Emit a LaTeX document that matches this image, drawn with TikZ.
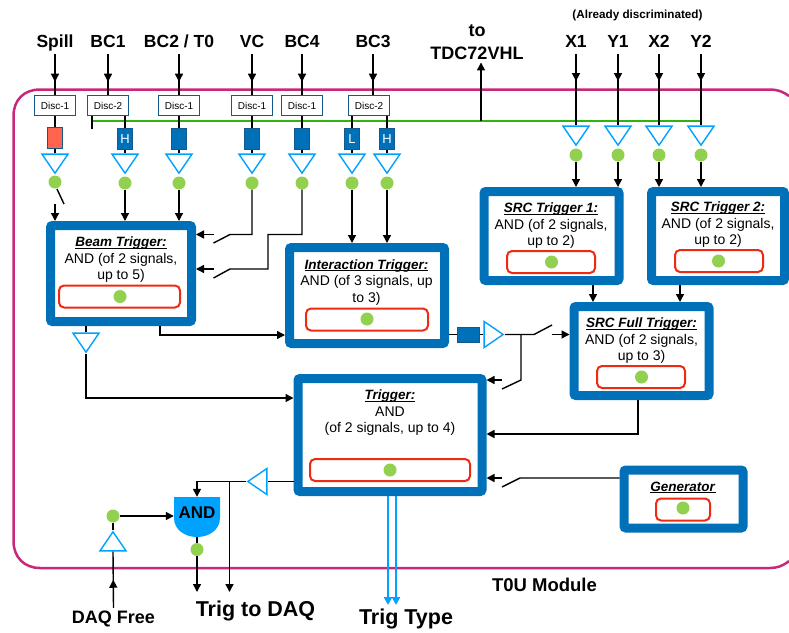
\documentclass[tikz,border=0pt]{standalone}
\usepackage{fontspec}
\usepackage{xcolor}
\usetikzlibrary{arrows.meta,shapes.geometric,decorations.markings}
\setmainfont{Liberation Sans}
\definecolor{modpink}{HTML}{C9287A}
\definecolor{frameblue}{HTML}{0071B9}
\definecolor{darkblue}{HTML}{14598C}
\definecolor{cyanline}{HTML}{00A2FF}
\definecolor{busgreen}{HTML}{2DB40F}
\definecolor{dotgreen}{HTML}{92D050}
\definecolor{redbox}{HTML}{EE2A12}
\definecolor{salmon}{HTML}{FF644E}
\newcommand{\trigtitle}[1]{\fontsize{13.5}{16.7}\selectfont\vphantom{A}\underline{\smash{\textbf{\textit{#1}}}}}

\begin{document}
\begin{tikzpicture}[x=1pt,y=-1pt,>={Triangle[length=8pt,width=8pt]},
  wire/.style={draw=black,line width=1.4pt},
  sig/.style={wire,->},
  midtip/.style={wire,postaction={decorate},decoration={markings,
    mark=at position #1 with {\arrow{Triangle[length=8pt,width=8pt]}}}},
  inlbl/.style={font=\fontsize{17.5}{20}\selectfont\bfseries,inner sep=0pt,
    text height=12.6pt,text depth=0pt,minimum height=26pt},
  biglbl/.style={font=\fontsize{21.5}{24}\selectfont\bfseries,inner sep=0pt},
  disc/.style={draw=darkblue,fill=white,line width=1.4pt,inner sep=0pt,minimum width=41pt,
    minimum height=20pt,font=\fontsize{10}{12}\selectfont},
  filt/.style={draw=darkblue,fill=frameblue,line width=1pt,inner sep=0pt,minimum width=15.5pt,
    minimum height=21pt,text=white,font=\fontsize{13}{14}\selectfont},
  tri/.style={isosceles triangle,isosceles triangle stretches,draw=cyanline,fill=white,
    line width=1.4pt,inner sep=0pt,minimum width=26pt,minimum height=19pt},
  tridown/.style={tri,shape border rotate=270,anchor=apex},
  gdot/.style={circle,fill=dotgreen,inner sep=0pt,minimum size=13pt},
  trig/.style={draw=frameblue,fill=white,line width=9pt,rounded corners=2pt,inner sep=0pt},
  redb/.style={draw=redbox,line width=2pt,rounded corners=5pt,inner sep=0pt,minimum height=22pt},
  txt/.style={align=center,inner sep=0pt,font=\fontsize{14}{16.7}\selectfont}]
  \useasboundingbox (0,0) rectangle (789,632);

  \draw[modpink,line width=2.5pt] (789,96) .. controls (783,91.5) and (777,89.5) .. (770,89.5)
    -- (40,89.5) .. controls (24,89.5) and (13.5,100) .. (13.5,116) -- (13.5,541)
    .. controls (13.5,557) and (24,568) .. (40,568) -- (770,568)
    .. controls (777,568) and (783,566) .. (789,561);

  \coordinate (busl) at (92,121);
  \coordinate (busr) at (701,121);
  \coordinate (stub) at (92,129);
  \coordinate (tdc) at (481,121);
  \draw[busgreen,line width=2.2pt] (busl) -- (busr);

  \foreach \nm/\xx/\dx/\lbl/\dlbl in {sp/55/55/Spill/Disc-1, bca/108/108/BC1/Disc-2,
      bcb/179/179/{BC2 / T0}/Disc-1, vc/252/252/VC/Disc-1, bcd/302/302/BC4/Disc-1, bcc/373/369/BC3/Disc-2} {
    \node[inlbl] (l\nm) at (\xx,40.7) {\lbl};
    \node[disc] (d\nm) at (\dx,105.5) {\dlbl};
    \draw[midtip=0.68] (l\nm.south) -- (l\nm.south |- d\nm.north);
  }

  \node[filt,fill=salmon] (fsp) at (55,138) {};
  \node[tridown] (tsp) at (55,175) {};
  \node[gdot] (gsp) at (55,182) {};
  \draw[wire] (dsp) -- (fsp);
  \draw[wire] (fsp) -- (tsp.lower side);
  \foreach \nm/\xx/\ltr/\src in {ha/125/H/bca, ab/179/{}/bcb, ac/252/{}/vc, ad/302/{}/bcd, la/352/L/bcc, hb/387/H/bcc} {
    \node[filt] (f\nm) at (\xx,139) {\ltr};
    \node[tridown] (t\nm) at (\xx,175) {};
    \node[gdot] (g\nm) at (\xx,183) {};
    \draw[wire] (f\nm |- d\src.south) -- (f\nm);
    \draw[wire] (f\nm) -- (t\nm.lower side);
  }
  \draw[wire] (stub |- dbca.south) -- (stub);

  \node[font=\fontsize{18}{23}\selectfont\bfseries,align=center,inner sep=0pt,outer sep=3pt] (ltdc) at (477,42) {to\\TDC72VHL};
  \draw[sig] (tdc) -- (tdc |- ltdc.south);

  \node[font=\fontsize{11.7}{14}\selectfont\bfseries,inner sep=0pt] (ldisc) at (637.5,15) {(Already discriminated)};
  \foreach \nm/\xx/\lbl in {xa/576/X1, ya/618/Y1, xb/659/X2, yb/701/Y2} {
    \node[inlbl] (l\nm) at (\xx,40.7) {\lbl};
    \node[tridown] (t\nm) at (\xx,147) {};
    \node[gdot] (g\nm) at (\xx,155) {};
    \draw[midtip=0.38] (l\nm.south) -- (t\nm.lower side);
  }

  \node[trig,minimum width=141pt,minimum height=96pt] (beam) at (121,273.5) {};
  \node[txt] (beamtxt) at (121,260) {\trigtitle{Beam Trigger:}\\AND (of 2 signals,\\up to 5)};
  \node[redb,minimum width=121pt] (beamred) at (119.5,296.5) {};
  \node[gdot] (beamdot) at (120,296.5) {};

  \node[trig,minimum width=155pt,minimum height=96pt] (inter) at (367,295.5) {};
  \node[txt] (intertxt) at (366.5,282.5) {\trigtitle{Interaction Trigger:}\\AND (of 3 signals, up\\to 3)};
  \node[redb,minimum width=122pt] (interred) at (367,319.5) {};
  \node[gdot] (interdot) at (367,319) {};

  \node[trig,minimum width=135pt,minimum height=89pt] (srca) at (551.5,236) {};
  \node[txt] (srcatxt) at (551,226) {\trigtitle{SRC Trigger 1:}\\AND (of 2 signals,\\up to 2)};
  \node[redb,minimum width=88pt] (srcared) at (551,262) {};
  \node[gdot] (srcadot) at (551.5,262) {};

  \node[trig,minimum width=133pt,minimum height=89pt] (srcb) at (718,236) {};
  \node[txt] (srcbtxt) at (718,225) {\trigtitle{SRC Trigger 2:}\\AND (of 2 signals,\\up to 2)};
  \node[redb,minimum width=88pt] (srcbred) at (719,261) {};
  \node[gdot] (srcbdot) at (718.5,261) {};

  \node[trig,minimum width=135pt,minimum height=89pt] (full) at (641.5,351) {};
  \node[txt] (fulltxt) at (641.5,341) {\trigtitle{SRC Full Trigger:}\\AND (of 2 signals,\\up to 3)};
  \node[redb,minimum width=88pt] (fullred) at (641,377) {};
  \node[gdot] (fulldot) at (641.5,377) {};

  \node[trig,minimum width=184pt,minimum height=113pt] (main) at (390,435) {};
  \node[txt] (maintxt) at (390,413) {\trigtitle{Trigger:}\\AND\\(of 2 signals, up to 4)};
  \node[redb,minimum width=160pt] (mainred) at (390,470) {};
  \node[gdot] (maindot) at (390,470) {};

  \node[trig,minimum width=119pt,minimum height=58pt] (gen) at (683.5,499) {};
  \node[txt] (gentxt) at (683,487.5) {\trigtitle{Generator}};
  \node[redb,minimum width=54pt] (genred) at (683,509.5) {};
  \node[gdot] (gendot) at (683,508) {};

  \foreach \a/\b in {gha/beam, gab/beam, gla/inter, ghb/inter, gxa/srca, gya/srca, gxb/srcb, gyb/srcb}
    \draw[sig] (\a) -- (\a |- \b.north);

  \coordinate (spa) at (57,189);
  \coordinate (spb) at (64,204);
  \coordinate (spc) at (55,204);
  \draw[wire] (spa) -- (spb);
  \draw[sig] (spc) -- (spc |- beam.north);

  \coordinate (vcsw) at (230,234.5);
  \coordinate (vcend) at (213.5,243);
  \coordinate (vcarr) at (213.5,234.5);
  \draw[wire] (gac) |- (vcsw) -- (vcend);
  \draw[sig] (vcarr) -- (vcarr -| beam.east);

  \coordinate (bdbend) at (268,234.5);
  \coordinate (bdsw) at (230,269);
  \coordinate (bdend) at (213.5,278);
  \coordinate (bdarr) at (213.5,269);
  \draw[wire] (gad) |- (bdbend) |- (bdsw) -- (bdend);
  \draw[sig] (bdarr) -- (bdarr -| beam.east);

  \coordinate (beamr) at (160,335);
  \draw[sig] (beamr |- beam.south) -- (beamr) -- (beamr -| inter.west);
  \node[tridown] (tbeam) at (86,354) {};
  \coordinate (beaml) at (86,398);
  \draw[wire] (tbeam.lower side |- beam.south) -- (tbeam.lower side);
  \draw[sig] (tbeam.apex) -- (beaml) -- (beaml -| main.west);

  \node[filt,minimum width=22pt,minimum height=15pt] (finter) at (468.7,334.5) {};
  \node[tri,anchor=apex] (tinter) at (505,334.5) {};
  \draw[wire] (finter -| inter.east) -- (finter);
  \draw[wire] (finter) -- (tinter.lower side);
  \coordinate (swfull) at (534,334.5);
  \coordinate (swfullend) at (552,325);
  \coordinate (arrfull) at (552,334.5);
  \draw[wire] (tinter.apex) -- (swfull) -- (swfullend);
  \draw[sig] (arrfull) -- (arrfull -| full.west);
  \coordinate (branch) at (521,334.5);
  \coordinate (brdown) at (521,380);
  \coordinate (brend) at (502,389);
  \coordinate (brarr) at (502,380);
  \draw[wire] (branch) -- (brdown) -- (brend);
  \draw[sig] (brarr) -- (brarr -| main.east);

  \coordinate (srcaout) at (593,285);
  \coordinate (srcbout) at (680,285);
  \draw[sig] (srcaout) -- (srcaout |- full.north);
  \draw[sig] (srcbout) -- (srcbout |- full.north);
  \coordinate (fullout) at (638,434);
  \draw[sig] (fullout |- full.south) -- (fullout) -- (fullout -| main.east);

  \coordinate (gensw) at (520,478);
  \coordinate (genend) at (502,487);
  \coordinate (genarr) at (502,478);
  \draw[wire] (gensw -| gen.west) -- (gensw) -- (genend);
  \draw[sig] (genarr) -- (genarr -| main.east);

  \fill[cyanline] (174,497) -- (220,497) -- (220,518) .. controls (220,529) and (210,537) .. (197,537)
    .. controls (184,537) and (174,529) .. (174,518) -- cycle;
  \node[minimum width=46pt,minimum height=40pt,inner sep=0pt] (andg) at (197,517) {};
  \node[font=\fontsize{17}{20}\selectfont\bfseries,inner sep=0pt] (andtxt) at (197,513) {AND};
  \node[tri,anchor=apex,shape border rotate=180] (tout) at (246,481.5) {};
  \coordinate (toand) at (197,481.5);
  \coordinate (branchb) at (229.5,481.5);
  \coordinate (daqb) at (229.5,592);
  \coordinate (daqa) at (197,592);
  \draw[wire] (tout.lower side -| main.west) -- (tout.lower side);
  \draw[sig] (tout.apex) -- (toand) -- (andg.north);
  \draw[sig] (branchb) -- (daqb);
  \node[gdot] (andot) at (197,549.5) {};
  \draw[wire] (andg.south) -- (andot);
  \draw[sig] (andot) -- (daqa);

  \node[gdot] (gfree) at (113,516) {};
  \node[tri,anchor=apex,shape border rotate=90] (tfree) at (113,530) {};
  \node[font=\fontsize{18}{20}\selectfont\bfseries,inner sep=0pt,outer sep=3pt] (lfree) at (113.5,619) {DAQ Free};
  \draw[wire] (gfree) -- (tfree.apex);
  \draw[sig] (gfree) -- (gfree -| andg.west);
  \draw[midtip=0.5] (lfree.north) -- (tfree.lower side);

  \node[biglbl] (ltrig) at (255.5,611) {Trig to DAQ};
  \node[biglbl] (ltype) at (406,618.5) {Trig Type};
  \node[font=\fontsize{18.5}{20}\selectfont\bfseries,inner sep=0pt] (lmod) at (544.5,585) {T0U Module};
  \coordinate (typea) at (388,605);
  \coordinate (typeb) at (396,605);
  \draw[cyanline,line width=2pt,->] (typea |- main.south) -- (typea);
  \draw[cyanline,line width=2pt,->] (typeb |- main.south) -- (typeb);
\end{tikzpicture}
\end{document}
